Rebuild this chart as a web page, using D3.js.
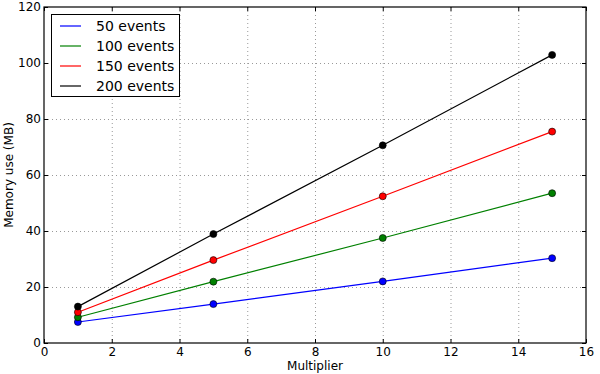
<!DOCTYPE html>
<html><head><meta charset="utf-8">
<script src="https://cdn.jsdelivr.net/npm/d3@7"></script>
<style>body{margin:0;background:#fff}svg{display:block}text{font-family:"DejaVu Sans",sans-serif;fill:#000}</style>
</head><body><svg id="c" width="600" height="374"></svg>
<script>
const multipliers = [1, 5, 10, 15];
const seriesNames = ["50 events", "100 events", "150 events", "200 events"];
const seriesColors = ["#0000ff", "#008000", "#ff0000", "#000000"];
const events50 = [7.5, 13.9, 22.0, 30.3];
const events100 = [9.2, 21.9, 37.5, 53.5];
const events150 = [11.0, 29.6, 52.4, 75.5];
const events200 = [13.0, 38.9, 70.6, 102.9];
const xTicks = [0, 2, 4, 6, 8, 10, 12, 14, 16];
const yTicks = [0, 20, 40, 60, 80, 100, 120];
const series = [events50, events100, events150, events200];

const svg = d3.select("#c");
const L = 44, R = 586, T = 7, B = 343;
const x = d3.scaleLinear().domain([0, 16]).range([L, R]);
const y = d3.scaleLinear().domain([0, 120]).range([B, T]);

// grid
svg.append("g").selectAll("line").data(xTicks.slice(1, -1)).join("line")
  .attr("x1", d => x(d) + 0.5).attr("x2", d => x(d) + 0.5).attr("y1", T).attr("y2", B)
  .attr("stroke", "#999").attr("stroke-width", 1).attr("stroke-dasharray", "1,3");
svg.append("g").selectAll("line").data(yTicks.slice(1, -1)).join("line")
  .attr("y1", d => y(d) + 0.5).attr("y2", d => y(d) + 0.5).attr("x1", L).attr("x2", R)
  .attr("stroke", "#999").attr("stroke-width", 1).attr("stroke-dasharray", "1,3");

// axes (ticks inside)
const fmt = d3.format("d");
svg.append("g").attr("transform", `translate(0,${B})`)
  .call(d3.axisBottom(x).tickValues(xTicks).tickFormat(fmt).tickSizeInner(-4).tickSizeOuter(0).tickPadding(4))
  .call(g => g.select(".domain").remove())
  .call(g => g.selectAll("text").attr("font-size", 12).attr("font-family", "DejaVu Sans"));
svg.append("g").attr("transform", `translate(${L},0)`)
  .call(d3.axisLeft(y).tickValues(yTicks).tickFormat(fmt).tickSizeInner(-4).tickSizeOuter(0).tickPadding(3))
  .call(g => g.select(".domain").remove())
  .call(g => g.selectAll("text").attr("font-size", 12).attr("font-family", "DejaVu Sans"));
svg.append("g").attr("transform", `translate(0,${T})`)
  .call(d3.axisTop(x).tickValues(xTicks).tickFormat("").tickSizeInner(-4).tickSizeOuter(0))
  .call(g => g.select(".domain").remove());
svg.append("g").attr("transform", `translate(${R},0)`)
  .call(d3.axisRight(y).tickValues(yTicks).tickFormat("").tickSizeInner(-4).tickSizeOuter(0))
  .call(g => g.select(".domain").remove());

// lines & points
const line = d3.line().x((d, i) => x(multipliers[i])).y(d => y(d));
series.forEach((s, k) => {
  svg.append("path").datum(s).attr("d", line).attr("fill", "none")
    .attr("stroke", seriesColors[k]).attr("stroke-width", 1.2);
});
series.forEach((s, k) => {
  svg.append("g").selectAll("circle").data(s).join("circle")
    .attr("cx", (d, i) => x(multipliers[i])).attr("cy", d => y(d)).attr("r", 3.5)
    .attr("fill", seriesColors[k]).attr("stroke", "#000").attr("stroke-width", 0.6);
});

// frame
svg.append("rect").attr("x", L).attr("y", T).attr("width", R - L).attr("height", B - T)
  .attr("fill", "none").attr("stroke", "#000").attr("stroke-width", 1.2);

// labels
svg.append("text").attr("x", (L + R) / 2).attr("y", 370).attr("text-anchor", "middle")
  .attr("font-size", 12).text("Multiplier");
svg.append("text").attr("transform", `translate(13,${(T + B) / 2}) rotate(-90)`)
  .attr("text-anchor", "middle").attr("font-size", 12).text("Memory use (MB)");

// legend
const lg = svg.append("g");
lg.append("rect").attr("x", 51.5).attr("y", 14.5).attr("width", 128).attr("height", 82)
  .attr("fill", "#fff").attr("stroke", "#000").attr("stroke-width", 1);
seriesNames.forEach((n, k) => {
  const yy = 26 + k * 20;
  lg.append("line").attr("x1", 60).attr("x2", 81).attr("y1", yy).attr("y2", yy)
    .attr("stroke", seriesColors[k]).attr("stroke-width", 1.2);
  lg.append("text").attr("x", 96).attr("y", yy + 5).attr("font-size", 14).text(n);
});
</script></body></html>
